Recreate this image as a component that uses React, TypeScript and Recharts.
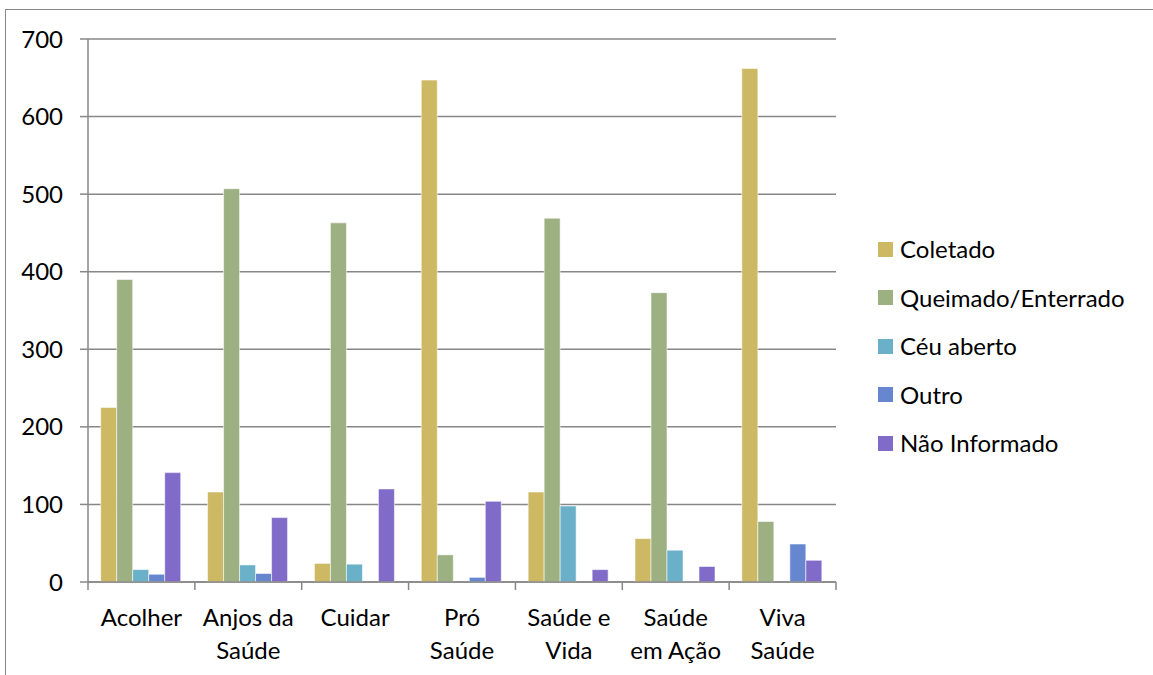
import React from 'react';
import { BarChart, Bar, XAxis, YAxis, CartesianGrid, Legend } from 'recharts';

// Cooperativas e destino do lixo
const categories = ['Acolher', 'Anjos da Saúde', 'Cuidar', 'Pró Saúde', 'Saúde e Vida', 'Saúde em Ação', 'Viva Saúde'];
const categoryLines = [['Acolher'], ['Anjos da', 'Saúde'], ['Cuidar'], ['Pró', 'Saúde'], ['Saúde e', 'Vida'], ['Saúde', 'em Ação'], ['Viva', 'Saúde']];

const coletado = [225, 116, 24, 647, 116, 56, 662];
const queimado = [390, 507, 463, 35, 469, 373, 78];
const ceuAberto = [16, 22, 23, 0, 98, 41, 0];
const outro = [10, 11, 0, 6, 0, 1, 49];
const naoInformado = [141, 83, 120, 104, 16, 20, 28];

const yTicks = [0, 100, 200, 300, 400, 500, 600, 700];

const series = [
  { key: 'coletado', name: 'Coletado', color: '#CDB863' },
  { key: 'queimado', name: 'Queimado/Enterrado', color: '#9DB082' },
  { key: 'ceuAberto', name: 'Céu aberto', color: '#6AB0C9' },
  { key: 'outro', name: 'Outro', color: '#6687D0' },
  { key: 'naoInformado', name: 'Não Informado', color: '#806CC8' },
];

const data = categories.map((name, i) => ({
  name,
  coletado: coletado[i],
  queimado: queimado[i],
  ceuAberto: ceuAberto[i],
  outro: outro[i],
  naoInformado: naoInformado[i],
}));

const FONT = 'Lato, sans-serif';
const AXIS = '#878787';
const W = 1153;
const H = 675;
const PLOT_LEFT = 88;
const PLOT_RIGHT = 836;
const PLOT_BOTTOM = 582;
const X_AXIS_H = 30;
const band = (PLOT_RIGHT - PLOT_LEFT) / categories.length;

// category label, plus the tick marks on the band edges
const CategoryTick = (props: any) => {
  const { x, y, payload, index } = props;
  const lines = categoryLines[index] || [payload.value];
  const axisY = y - 10;
  const last = index === categories.length - 1;
  return (
    <g>
      <line x1={x - band / 2} x2={x - band / 2} y1={axisY} y2={axisY + 8} stroke={AXIS} strokeWidth={1.5} />
      {last && <line x1={x + band / 2} x2={x + band / 2} y1={axisY} y2={axisY + 8} stroke={AXIS} strokeWidth={1.5} />}
      <text x={x} y={y} textAnchor="middle" fontFamily={FONT} fontSize={24} fill="#000">
        {lines.map((l: string, i: number) => (
          <tspan key={i} x={x} y={y + 34 + i * 33}>{l}</tspan>
        ))}
      </text>
    </g>
  );
};

const LegendBox = () => (
  <div style={{ fontFamily: FONT, fontSize: 24, color: '#000' }}>
    {series.map(s => (
      <div key={s.key} style={{ height: 48.5, display: 'flex', alignItems: 'center' }}>
        <span style={{ width: 15, height: 15, background: s.color, marginRight: 7, display: 'inline-block' }} />
        <span style={{ lineHeight: 1 }}>{s.name}</span>
      </div>
    ))}
  </div>
);

export default function App() {
  return (
    <div style={{ position: 'absolute', left: 0, top: 0, width: W, height: H, overflow: 'hidden', background: '#fff' }}>
      <div style={{ position: 'absolute', left: 5, top: 9, width: 1300, height: 800, border: `1.5px solid ${AXIS}` }} />
      <div style={{ position: 'absolute', left: 0, top: 0 }}>
        <BarChart
          width={W}
          height={H}
          data={data}
          margin={{ top: 39, right: W - PLOT_RIGHT, bottom: H - PLOT_BOTTOM - X_AXIS_H, left: 0 }}
          barCategoryGap="11.9%"
          barGap={0}
        >
          <CartesianGrid vertical={false} stroke={AXIS} strokeWidth={1.5} />
          <XAxis
            dataKey="name"
            height={X_AXIS_H}
            axisLine={{ stroke: AXIS, strokeWidth: 1.5 }}
            tickLine={false}
            tickSize={8}
            tick={<CategoryTick />}
            interval={0}
          />
          <YAxis
            width={PLOT_LEFT}
            domain={[0, 700]}
            ticks={yTicks}
            interval={0}
            axisLine={{ stroke: AXIS, strokeWidth: 1.5 }}
            tickLine={{ stroke: AXIS, strokeWidth: 1.5 }}
            tickSize={8}
            tickMargin={17}
            tick={{ fill: '#000', fontFamily: FONT, fontSize: 24 }}
          />
          <Legend
            layout="vertical"
            align="center"
            verticalAlign="middle"
            content={<LegendBox />}
            wrapperStyle={{ left: 878, top: 225, width: 270 }}
          />
          {series.map(s => (
            <Bar
              key={s.key}
              dataKey={s.key}
              name={s.name}
              fill={s.color}
              stroke="rgba(255,255,255,0.55)"
              strokeWidth={1}
              isAnimationActive={false}
            />
          ))}
        </BarChart>
      </div>
    </div>
  );
}
